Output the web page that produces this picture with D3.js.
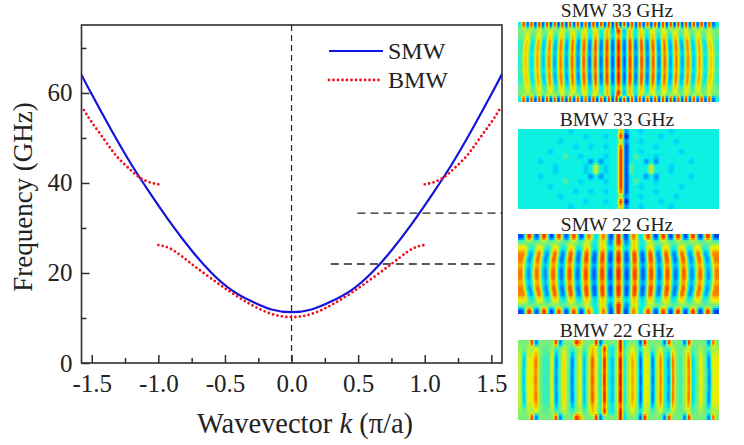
<!DOCTYPE html>
<html>
<head>
<meta charset="utf-8">
<script src="https://cdn.jsdelivr.net/npm/d3@7"></script>
<style>
html,body{margin:0;padding:0;background:#fff;}
svg{display:block;}
text{font-family:"Liberation Serif",serif;fill:#222;}
</style>
</head>
<body>
<svg id="c" width="744" height="445"></svg>
<script>
// ---- dispersion curves (wavevector k in pi/a, frequency in GHz) ----
const smwK = [-1.58,-1.5,-1.35,-1.2,-1.05,-0.9,-0.75,-0.6,-0.45,-0.3,-0.15,0,0.15,0.3,0.45,0.6,0.75,0.9,1.05,1.2,1.35,1.5,1.58];
const smwF = [64.2,59.7,51.6,44,37.2,30.8,25,20,16.2,13.7,11.9,11.3,11.9,13.7,16.2,20,25,30.8,37.2,44,51.6,59.7,64.2];
const bmwUpLeftK = [-1,-1.06,-1.14,-1.22,-1.315,-1.4,-1.5,-1.575];
const bmwUpLeftF = [39.7,40.1,41.2,43.2,46,49.4,53.5,57];
const bmwUpRightK = [1,1.06,1.14,1.22,1.315,1.4,1.5,1.575];
const bmwUpRightF = [39.7,40.1,41.2,43.2,46,49.4,53.5,57];
const bmwLowK = [-1,-0.95,-0.87,-0.75,-0.6,-0.45,-0.3,-0.15,0,0.15,0.3,0.45,0.6,0.75,0.87,0.95,1];
const bmwLowF = [26.2,25.9,24.7,22,18.7,15.6,12.9,10.9,10.2,10.9,12.9,15.6,18.7,22,24.7,25.9,26.2];
const guideF = [33.3,22];
const guideFromK = [0.495,0.295];
const guideToK = [1.58,1.55];
const xTicks = [-1.5,-1,-0.5,0,0.5,1,1.5];
const xMinor = [-1.25,-0.75,-0.25,0.25,0.75,1.25];
const yTicks = [0,20,40,60];
const yMinor = [10,30,50,70];
const legendNames = ["SMW","BMW"];
const panelTitles = ["SMW 33 GHz","BMW 33 GHz","SMW 22 GHz","BMW 22 GHz"];

// ---- field maps: colour level 0..1 read stripe by stripe ----
const smw33Stripe = [.42,.68,.34,.72,.3,.76,.26,.78,.24,.8,.2,.82,.18,.84,.17,.86,.14,.93,.14,.86,.17,.84,.18,.82,.2,.8,.24,.78,.26,.76,.3,.72,.34,.68,.42];
const smw33Gap = [.5,.58,.5,.58,.48,.6,.48,.6,.48,.6,.45,.62,.42,.65,.38,.7,.3,.9,.3,.7,.38,.65,.42,.62,.45,.6,.48,.6,.48,.6,.48,.58,.5,.58,.5];
const smw33Edge = [.4,.85,.15,.85,.12,.88,.12,.88,.12,.85,.12,.88,.12,.88,.12,.88,.12,.85,.12,.88,.12,.88,.12,.88,.12,.9,.12,.88,.12,.88,.12,.88,.12,.85,.12,.88,.12,.88,.12,.88,.12,.85,.12,.88,.12,.88,.12,.88,.12,.85,.15,.4];
const smw33Weight = [null,"gap",.5,.9,1,.82,1,1,.82,1,.9,.5,"gap",null];
const smw33Bow = [-1.5,-1.5,-1,-.5,.3,.7,.8,.8,.7,.3,-.5,-1,-1.5,-1.5];

const smw22Stripe = [.78,.24,.8,.22,.82,.18,.84,.18,.85,.14,.86,.12,.9,.12,.86,.14,.85,.18,.84,.18,.82,.22,.8,.24,.78];
const smw22Gap = [.5,.48,.52,.5,.52,.47,.55,.47,.58,.38,.66,.22,.88,.22,.66,.38,.58,.47,.55,.47,.52,.5,.52,.48,.5];
const smw22Edge = [.12,.88,.12,.88,.1,.85,.12,.85,.12,.78,.35,.78,.1,.9,.1,.78,.35,.85,.1,.88,.1,.88,.1,.88,.1,.88,.1];
const smw22Weight = [null,"gap",.45,.95,1,.72,1,1,.72,1,.95,.45,"gap",null];
const smw22Bow = [-2.5,-2.5,-2,-1,.5,1,1.5,1.5,1,.5,-1,-2,-2.5,-2.5];

const bmw22Stripe = [.58,.32,.62,.62,.78,.5,.43,.42,.62,.22,.5,.66,.5,.2,.5,.62,.3,.55,.82,.6,.4,.9,.44,.3,.55,.95,.4,.55,.72,.55,.15,.62,.6,.2,.55,.76,.42,.24,.78,.5,.44,.55,.78,.34,.48,.62,.5,.22,.62,.62];
const bmw22Gap = [.52,.5,.55,.55,.6,.5,.47,.47,.55,.42,.5,.57,.5,.42,.5,.57,.44,.52,.7,.55,.44,.88,.44,.36,.52,.93,.42,.52,.6,.52,.38,.57,.55,.44,.52,.58,.47,.44,.58,.5,.47,.52,.58,.47,.48,.55,.5,.44,.55,.55];
const bmw22Edge = [.5,.5,.5,.85,.2,.5,.5,.5,.5,.85,.2,.5,.5,.5,.88,.72,.5,.5,.5,.88,.18,.5,.5,.5,.5,.95,.35,.5,.5,.5,.15,.88,.5,.5,.5,.5,.2,.85,.5,.5,.5,.2,.85,.5,.5,.5,.5,.2,.78,.5];
const bmw22Weight = [null,"gap",.7,1,1,.9,1,1,.9,1,1,.7,"gap",null];
const bmw22Bow = [-.5,-.5,-.3,0,0,.3,.3,.3,.3,0,0,-.3,-.5,-.5];

const bmw33Levels = [.02,.1,.22,.32,.39,.46,.58,.7,.8,.88];
const bmw33Cells = [
"4444444444 3444444444 7244344444 3444444444",
"4444444444 4443444344 9044444434 4444444444",
"4444444434 4444444444 6244344444 4344444444",
"4444444444 4344344344 8144444344 4444444444",
"4444443444 4444444444 9144344444 4434444444",
"4444444445 4434444344 9145444344 4444444444",
"4444344444 4444242444 9144424244 4444344444",
"4444444344 4443464344 9154446444 3444444444",
"4444444344 4443464344 9154446444 3444444444",
"4444344444 4444242444 9144424244 4444344444",
"4444444445 4434444344 9145444344 4444444444",
"4444443444 4444444444 9144344444 4434444444",
"4444444444 4344344344 8144444344 4444444444",
"4444444434 4444444444 6244344444 4344444444",
"4444444444 4443444344 9044444434 4444444444",
"4444444444 3444444444 7244344444 3444444444"
];

const svg = d3.select("#c");
const W = {l:81.5,r:502,t:25,b:363};
const x = d3.scaleLinear().domain([-1.577,1.58]).range([W.l,W.r]);
const y = d3.scaleLinear().domain([0,75.1]).range([W.b,W.t]);
const ink = "#2e2e2e";
const zip = (a,b)=>a.map((v,i)=>[v,b[i]]);
const line = d3.line().x(d=>x(d[0])).y(d=>y(d[1])).curve(d3.curveNatural);

const defs = svg.append("defs");
defs.append("clipPath").attr("id","plot").append("rect")
  .attr("x",W.l).attr("y",W.t).attr("width",W.r-W.l).attr("height",W.b-W.t);

// centre line and guides
const plot = svg.append("g").attr("clip-path","url(#plot)");
plot.append("line").attr("x1",x(0)).attr("x2",x(0)).attr("y1",W.t).attr("y2",W.b)
  .attr("stroke","#222").attr("stroke-width",1.2).attr("stroke-dasharray","6 4");
plot.selectAll(".guide").data(guideF).join("line")
  .attr("x1",(d,i)=>x(guideFromK[i])).attr("x2",(d,i)=>x(guideToK[i]))
  .attr("y1",d=>y(d)).attr("y2",d=>y(d))
  .attr("stroke","#222").attr("stroke-width",1.3).attr("stroke-dasharray","8 5");

// curves
plot.append("path").attr("d",line(zip(smwK,smwF))).attr("fill","none").attr("stroke","#1414dc").attr("stroke-width",2.2);
[zip(bmwUpLeftK,bmwUpLeftF),zip(bmwLowK,bmwLowF),zip(bmwUpRightK,bmwUpRightF)].forEach(s=>{
  plot.append("path").attr("d",line(s)).attr("fill","none").attr("stroke","#f01020")
    .attr("stroke-width",2.8).attr("stroke-linecap","round").attr("stroke-dasharray","0 4.5");
});

// frame and axes
svg.append("rect").attr("x",W.l).attr("y",W.t).attr("width",W.r-W.l).attr("height",W.b-W.t)
  .attr("fill","none").attr("stroke",ink).attr("stroke-width",1.6);
const ax = svg.append("g").attr("transform",`translate(0,${W.b})`)
  .call(d3.axisBottom(x).tickValues(xTicks).tickSize(-8).tickPadding(11).tickFormat(d3.format(".1f")));
const axm = svg.append("g").attr("transform",`translate(0,${W.b})`)
  .call(d3.axisBottom(x).tickValues(xMinor).tickSize(-5).tickFormat(""));
const ay = svg.append("g").attr("transform",`translate(${W.l},0)`)
  .call(d3.axisLeft(y).tickValues(yTicks).tickSize(-8).tickPadding(9));
const aym = svg.append("g").attr("transform",`translate(${W.l},0)`)
  .call(d3.axisLeft(y).tickValues(yMinor).tickSize(-5).tickFormat(""));
[ax,axm,ay,aym].forEach(a=>{
  a.select(".domain").remove();
  a.selectAll("line").attr("stroke",ink).attr("stroke-width",1.5);
  a.selectAll("text").attr("font-size",25).attr("font-family","Liberation Serif").attr("fill","#222");
});
ax.selectAll("text").text(d=>d3.format(".1f")(d).replace("−","-"));

// axis titles
const xt = svg.append("text").attr("x",305).attr("y",433).attr("text-anchor","middle").attr("font-size",28.5);
xt.append("tspan").text("Wavevector ");
xt.append("tspan").attr("font-style","italic").text("k");
xt.append("tspan").text(" (π/a)");
svg.append("text").attr("transform","translate(32,197) rotate(-90)").attr("text-anchor","middle")
  .attr("font-size",27).text("Frequency (GHz)");

// legend
const leg = svg.append("g");
leg.append("line").attr("x1",329).attr("x2",383).attr("y1",51).attr("y2",51).attr("stroke","#1414dc").attr("stroke-width",2.2);
leg.append("line").attr("x1",329).attr("x2",383).attr("y1",80).attr("y2",80).attr("stroke","#f01020")
  .attr("stroke-width",2.8).attr("stroke-linecap","round").attr("stroke-dasharray","0 4.5");
leg.selectAll("text").data(legendNames).join("text").attr("x",388).attr("y",(d,i)=>59+i*29)
  .attr("font-size",24).text(d=>d);

// field maps: samples are eased in value, then coloured, so that red and blue pass through the jet ramp
const jet = d3.scaleLinear().domain([0,.125,.375,.625,.875,1])
  .range(["#00008f","#0050ff","#00f0f0","#f0f000","#ff3000","#a00000"]).clamp(true);
defs.append("filter").attr("id","soft").attr("x","-5%").attr("y","-5%").attr("width","110%").attr("height","110%")
  .append("feGaussianBlur").attr("stdDeviation",0.7);

const panelX = [518,719];
const panelTops = [22,129,234,340];
const panelH = 80;
const titleBase = [17,126,231,337];

function ease(arr,u){
  const t = Math.max(0,Math.min(arr.length-1.001,u-.5));
  const i = Math.floor(t), f = t-i, s = (1-Math.cos(Math.PI*f))/2;
  return arr[i]*(1-s)+arr[i+1]*s;
}
function drawField(i,rowFns){
  const top = panelTops[i];
  defs.append("clipPath").attr("id","p"+i).append("rect")
    .attr("x",panelX[0]).attr("y",top).attr("width",panelX[1]-panelX[0]).attr("height",panelH);
  const rowScale = d3.scaleLinear().domain([top,top+panelH]).range([0,rowFns.length]);
  const pixels = [];
  d3.range(top,top+panelH,2).forEach(py=>{
    d3.range(panelX[0],panelX[1],1).forEach(px=>{
      const t = Math.max(0,Math.min(rowFns.length-1.001,rowScale(py+1)-.5));
      const r = Math.floor(t), f = t-r, s = (1-Math.cos(Math.PI*f))/2;
      const v = rowFns[r](px+.5)*(1-s)+rowFns[r+1](px+.5)*s;
      pixels.push({px,py,v});
    });
  });
  svg.append("g").attr("clip-path",`url(#p${i})`).append("g").attr("filter","url(#soft)")
    .selectAll("rect").data(pixels).join("rect")
    .attr("x",d=>d.px-(d.px===panelX[0]?2:0)).attr("y",d=>d.py)
    .attr("width",d=>d.px===panelX[0]?3.5:1.5).attr("height",2.5)
    .attr("fill",d=>jet(d.v));
}
function stripeField(i,stripe,gap,edge,weight,bow,base){
  const cx = d3.scaleLinear().domain(panelX).range([0,stripe.length]);
  const ex = d3.scaleLinear().domain(panelX).range([0,edge.length]);
  const mid = stripe.length/2;
  const cell = (panelX[1]-panelX[0])/stripe.length;
  const fns = weight.map((w,r)=>{
    if(w===null) return px=>ease(edge,ex(px));
    return px=>{
      const u = cx(px);
      const shifted = u-(bow[r]*(u-mid)/mid)/cell;
      if(w==="gap") return ease(gap,shifted);
      return base+(ease(stripe,shifted)-base)*w;
    };
  });
  drawField(i,fns);
}
stripeField(0,smw33Stripe,smw33Gap,smw33Edge,smw33Weight,smw33Bow,.55);
stripeField(2,smw22Stripe,smw22Gap,smw22Edge,smw22Weight,smw22Bow,.52);
stripeField(3,bmw22Stripe,bmw22Gap,bmw22Edge,bmw22Weight,bmw22Bow,.52);
{
  const rows = bmw33Cells.map(s=>s.replace(/ /g,"").split("").map(c=>bmw33Levels[+c]));
  const cx = d3.scaleLinear().domain(panelX).range([0,rows[0].length]);
  drawField(1,rows.map(row=>px=>ease(row,cx(px))));
}

svg.selectAll(".ptitle").data(panelTitles).join("text").attr("class","ptitle")
  .attr("x",617).attr("y",(d,i)=>titleBase[i]).attr("text-anchor","middle").attr("font-size",19.5).text(d=>d);
</script>
</body>
</html>
